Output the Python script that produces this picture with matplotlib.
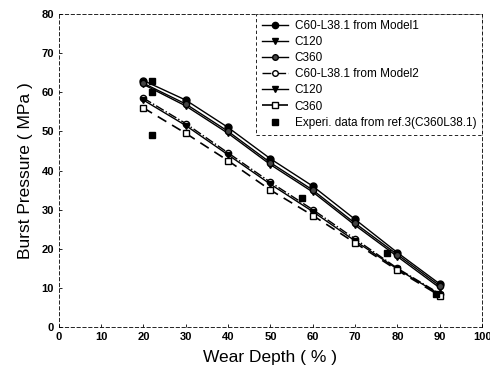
import numpy as np
import matplotlib
matplotlib.use('Agg')
import matplotlib.pyplot as plt

plt.rcParams['font.family'] = ['Liberation Sans', 'DejaVu Sans']

## data
wear = [20, 30, 40, 50, 60, 70, 80, 90]

m1_c60 = [63, 58, 51, 43, 36, 27.5, 19, 11]
m1_c120 = [62, 56.5, 49.5, 41.5, 34.5, 26, 18, 10]
m1_c360 = [62.3, 57, 50, 42, 35, 26.5, 18.5, 10.5]

m2_c60 = [58.5, 52, 44.5, 37, 30, 22.5, 15, 8.5]
m2_c120 = [58, 51.5, 44, 36.5, 29.5, 22, 14.8, 8.3]
m2_c360 = [56, 49.5, 42.5, 35, 28.5, 21.5, 14.5, 8]

exp_x = [22, 22, 22, 57.5, 77.5, 89]
exp_y = [63, 60, 49, 33, 19, 8.5]

labels = ['C60-L38.1 from Model1', 'C120', 'C360',
          'C60-L38.1 from Model2', 'C120', 'C360',
          'Experi. data from ref.3(C360L38.1)']

fig = plt.figure(figsize=(4.9, 3.9), dpi=100, facecolor='white')
ax = fig.add_axes([0.120, 0.1615, 0.864, 0.8025])

ax.plot(wear, m1_c60, '-o', color='black', lw=1, ms=5, label=labels[0])
ax.plot(wear, m1_c120, '-v', color='black', lw=1, ms=5, label=labels[1])
ax.plot(wear, m1_c360, '-o', color='black', lw=1, ms=4.5, mfc='#444444', label=labels[2])

ax.plot(wear, m2_c60, '-.o', color='black', lw=1, ms=4.5, mfc='white', label=labels[3])
ax.plot(wear, m2_c120, '-v', color='black', lw=1, ms=4.5, mfc='black', label=labels[4])
ax.plot(wear, m2_c360, '--s', color='black', lw=1.2, ms=4.5, mfc='white', dashes=(6, 4), label=labels[5])

ax.plot(exp_x, exp_y, 's', color='black', ms=4.5, ls='none', label=labels[6])

ax.set_xlim(0, 100)
ax.set_ylim(0, 80)
ax.set_xticks(np.arange(0, 101, 10))
ax.set_yticks(np.arange(0, 81, 10))
ax.tick_params(direction='in', length=2, width=0.6, labelsize=8)
for t in ax.get_xticklabels() + ax.get_yticklabels():
    t.set_fontweight('bold')
for s in ax.spines.values():
    s.set_linewidth(0.6)
    s.set_linestyle((0, (4, 3)))

ax.set_xlabel('Wear Depth ( % )', fontsize=12.5, labelpad=6)
ax.set_ylabel('Burst Pressure ( MPa )', fontsize=12.5, labelpad=6)

leg = ax.legend(loc='upper right', bbox_to_anchor=(1, 1), borderaxespad=0,
                fontsize=8.5, handlelength=2.2, handletextpad=0.6,
                labelspacing=0.35, borderpad=0.5, fancybox=False, framealpha=1,
                edgecolor='black', markerscale=0.9)
leg.get_frame().set_linewidth(0.6)
leg.get_frame().set_linestyle((0, (4, 3)))

fig.savefig('out.png', dpi=100)
